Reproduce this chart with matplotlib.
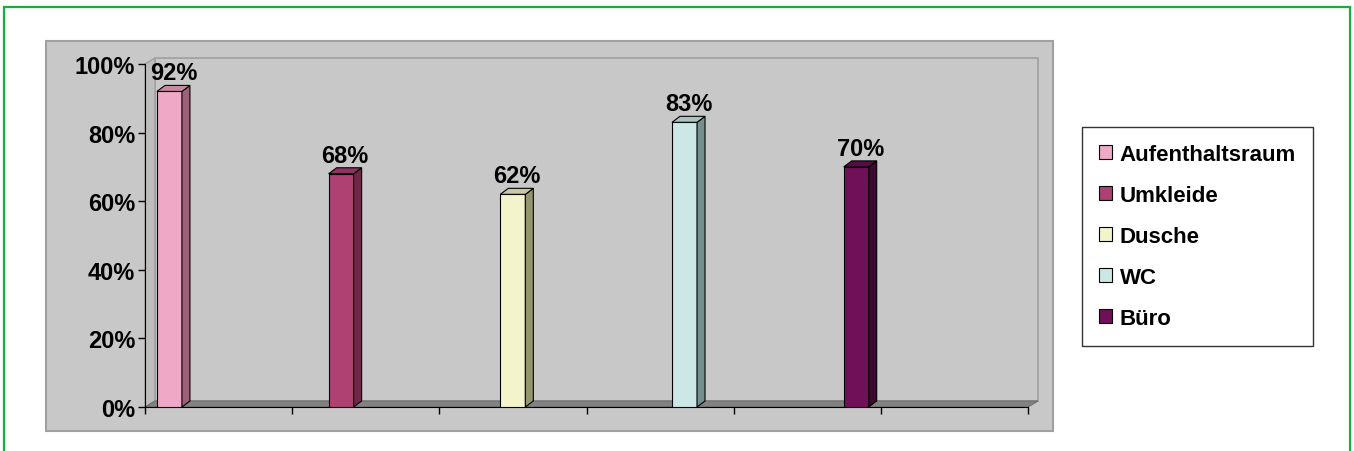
import matplotlib
matplotlib.use("Agg")
import matplotlib.pyplot as plt
from matplotlib.patches import Rectangle, Polygon

plt.rcParams['font.family'] = ['Liberation Sans', 'DejaVu Sans']

# data
raeume = ["Aufenthaltsraum", "Umkleide", "Dusche", "WC", "Büro"]
werte = [92, 68, 62, 83, 70]
labels = ["92%", "68%", "62%", "83%", "70%"]
ytick_labels = ["0%", "20%", "40%", "60%", "80%", "100%"]

# colours: front, side, top
front = ["#EFA8C5", "#AE4072", "#F4F4CC", "#CCE8E6", "#701058"]
side = ["#9C6077", "#6E2848", "#94946E", "#738F8E", "#3E0830"]
top = ["#C88AA2", "#8E3460", "#C8C8A4", "#A8C4C2", "#580C44"]

W, H = 1354, 452
fig = plt.figure(figsize=(W / 100, H / 100), dpi=100)

# green frame and grey chart panel (figure pixel coords)
def fx(px):
    return px / W

def fy(py):
    return 1 - py / H

fig.patches.append(Rectangle((fx(4), fy(470)), fx(1350) - fx(4), fy(8) - fy(470),
                             transform=fig.transFigure, facecolor="white",
                             edgecolor="#14B03C", lw=1.6, zorder=-3))
fig.patches.append(Rectangle((fx(46), fy(432)), fx(1053) - fx(46), fy(42) - fy(432),
                             transform=fig.transFigure, facecolor="#C8C8C8",
                             edgecolor="#A0A0A0", lw=1.5, zorder=-2))

ax = fig.add_axes([fx(145), fy(408), fx(1028) - fx(145), fy(65) - fy(408)])
ax.set_zorder(1)
ax.set_xlim(0, 6)
ax.set_ylim(0, 100)
ax.patch.set_visible(False)

# depth offsets in data units
ppx = (1028 - 145) / 6.0   # px per x unit
ppy = (408 - 65) / 100.0   # px per y unit
fdx, fdy = 10 / ppx, 6 / ppy   # floor/walls
bdx, bdy = 8 / ppx, 6 / ppy    # bars

wall = "#A0A0A0"
# back wall
ax.add_patch(Polygon([(fdx, fdy), (6 + fdx, fdy), (6 + fdx, 100 + fdy), (fdx, 100 + fdy)],
                     closed=True, facecolor="#C8C8C8", edgecolor=wall, lw=1.2,
                     clip_on=False, zorder=1))
# left wall
ax.add_patch(Polygon([(0, 0), (fdx, fdy), (fdx, 100 + fdy), (0, 100)],
                     closed=True, facecolor="#BDBDBD", edgecolor=wall, lw=1.0,
                     clip_on=False, zorder=1))
# floor
ax.add_patch(Polygon([(0, 0), (6, 0), (6 + fdx, fdy), (fdx, fdy)],
                     closed=True, facecolor="#828282", edgecolor="#6E6E6E", lw=0.8,
                     clip_on=False, zorder=2))

# bars
bw = 25 / ppx
start = 0.166
step = 7 / 6
handles = []
for i, (name, v) in enumerate(zip(raeume, werte)):
    x0 = start + i * step - bw / 2
    b = ax.bar(x0, v, width=bw, align="edge", color=front[i], edgecolor="black",
               lw=0.8, zorder=4, label=name)
    handles.append(b)
    ax.add_patch(Polygon([(x0 + bw, 0), (x0 + bw + bdx, bdy), (x0 + bw + bdx, v + bdy), (x0 + bw, v)],
                         closed=True, facecolor=side[i], edgecolor="black", lw=0.8,
                         clip_on=False, zorder=4))
    ax.add_patch(Polygon([(x0, v), (x0 + bw, v), (x0 + bw + bdx, v + bdy), (x0 + bdx, v + bdy)],
                         closed=True, facecolor=top[i], edgecolor="black", lw=0.8,
                         clip_on=False, zorder=4))
    ax.text(x0 + bw / 2 + bdx / 2, v + bdy + 0.3, labels[i], ha="center", va="bottom",
            fontsize=17, fontweight="bold", zorder=5)

# axes styling
for s in ["top", "right"]:
    ax.spines[s].set_visible(False)
ax.spines["left"].set_color("black")
ax.spines["bottom"].set_color("black")
ax.spines["left"].set_zorder(3)
ax.spines["bottom"].set_zorder(3)
ax.set_yticks(range(0, 101, 20))
ax.set_yticklabels(ytick_labels, fontsize=17, fontweight="bold")
ax.set_xticks(range(0, 7))
ax.set_xticklabels([])
ax.tick_params(axis="y", direction="out", length=5, width=1, pad=2)
ax.tick_params(axis="x", direction="out", length=5, width=1)

leg = fig.legend(handles=handles, labels=raeume, loc="center",
                 bbox_to_anchor=(fx(1197.5), fy(237.5)), frameon=True,
                 fancybox=False, shadow=False, prop={"size": 16, "weight": "bold"},
                 handlelength=0.6, handleheight=0.6, handletextpad=0.35,
                 labelspacing=0.9, borderpad=0.75, borderaxespad=0)
leg.get_frame().set_edgecolor("black")
leg.get_frame().set_linewidth(1.0)
leg.set_zorder(5)

fig.savefig("out.png", dpi=100)
